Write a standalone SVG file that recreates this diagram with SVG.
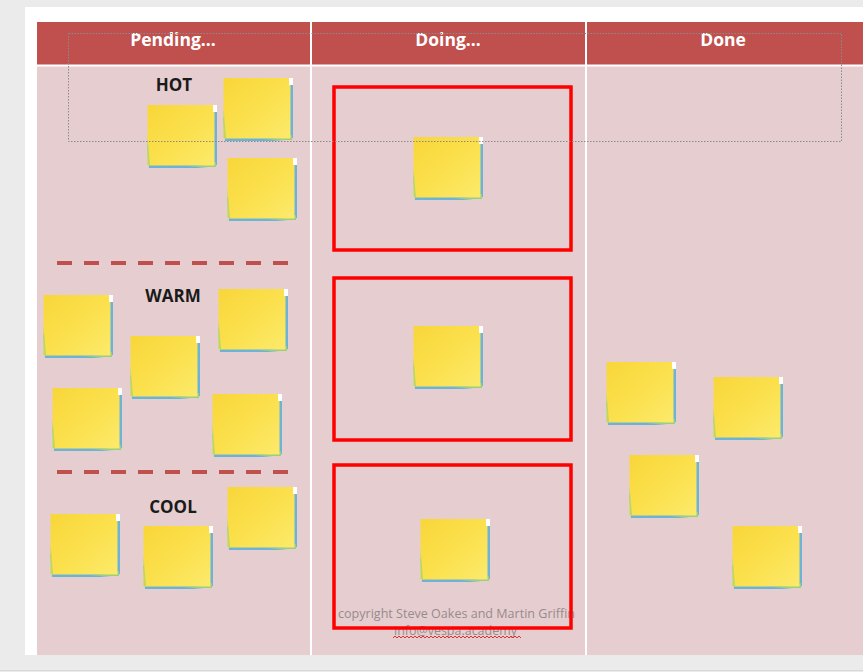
<svg xmlns="http://www.w3.org/2000/svg" xmlns:xlink="http://www.w3.org/1999/xlink" width="863" height="672" viewBox="0 0 863 672">
<style>
.hdr{font-family:"Open Sans","Liberation Sans",sans-serif;font-weight:bold;font-size:17.5px;fill:#ffffff;text-anchor:middle}
.lbl{font-family:"Open Sans","Liberation Sans",sans-serif;font-weight:bold;font-size:17px;fill:#1a1a1a;text-anchor:middle}
.copy{font-family:"Open Sans","Liberation Sans",sans-serif;font-size:13px;fill:#988a8c}
.sep{stroke:#c0504d;stroke-width:4;stroke-dasharray:15 12;fill:none}
.wip{fill:none;stroke:#ff0000;stroke-width:3.5}
.div{stroke:#ffffff;stroke-width:2}
</style>
<defs>
<linearGradient id="yel" x1="0" y1="0" x2="1" y2="1">
<stop offset="0" stop-color="#f8d63a"/>
<stop offset="0.5" stop-color="#fbe04c"/>
<stop offset="1" stop-color="#fcea6c"/>
</linearGradient>
<symbol id="note" viewBox="0 0 70 63" width="70" height="63" overflow="visible">
<path d="M66 4 L70 4 L70 60 Q60 63 50 63 L2 63 L0 40 Z" fill="#6cb3d6"/>
<path d="M40 62 Q58 61 69 57 L69 62 Z" fill="#9ad07a"/>
<rect x="0.5" y="0" width="67" height="60.5" fill="url(#yel)"/>
<path d="M0.5 30 L0.5 60 L3 60 Z" fill="#b8d86a"/>
<rect x="66" y="0" width="4" height="7" fill="#ffffff"/>
</symbol>
</defs>
<rect width="863" height="672" fill="#ebebeb"/>
<line x1="0" y1="670.5" x2="863" y2="670.5" stroke="#d8d8d8" stroke-width="1"/>
<rect x="25" y="7" width="838" height="648" fill="#ffffff"/>
<g id="board">
<rect x="37" y="22" width="826" height="43" fill="#c0504d"/>
<rect x="37" y="66" width="826" height="589" fill="#e6ced0"/>
<line class="div" x1="37" y1="65.5" x2="863" y2="65.5"/>
<line class="div" x1="311" y1="22" x2="311" y2="655"/>
<line class="div" x1="586" y1="22" x2="586" y2="655"/>
</g>
<g id="col-pending"><text class="hdr" x="173" y="46">Pending...</text></g>
<g id="col-doing"><text class="hdr" x="448" y="46">Doing...</text></g>
<g id="col-done"><text class="hdr" x="723" y="46">Done</text></g>
<g id="label-hot"><text class="lbl" x="174" y="91" font-size="18">HOT</text></g>
<g id="label-warm"><text class="lbl" x="173" y="302">WARM</text></g>
<g id="label-cool"><text class="lbl" x="173" y="513">COOL</text></g>
<g id="separators">
<line class="sep" x1="57" y1="263" x2="290" y2="263"/>
<line class="sep" x1="57" y1="472" x2="290" y2="472"/>
</g>
<g id="hot-notes">
<use id="hot1" xlink:href="#note" href="#note" x="147" y="105"/>
<use id="hot2" xlink:href="#note" href="#note" x="223" y="78"/>
<use id="hot3" xlink:href="#note" href="#note" x="227" y="158"/>
</g>
<g id="warm-notes">
<use id="warm1" xlink:href="#note" href="#note" x="43" y="295"/>
<use id="warm2" xlink:href="#note" href="#note" x="130" y="336"/>
<use id="warm3" xlink:href="#note" href="#note" x="218" y="289"/>
<use id="warm4" xlink:href="#note" href="#note" x="52" y="388"/>
<use id="warm5" xlink:href="#note" href="#note" x="212" y="394"/>
</g>
<g id="cool-notes">
<use id="cool1" xlink:href="#note" href="#note" x="50" y="514"/>
<use id="cool2" xlink:href="#note" href="#note" x="143" y="526"/>
<use id="cool3" xlink:href="#note" href="#note" x="227" y="487"/>
</g>
<g id="doing-notes">
<use id="doing1" xlink:href="#note" href="#note" x="413" y="137"/>
<use id="doing2" xlink:href="#note" href="#note" x="413" y="326"/>
<use id="doing3" xlink:href="#note" href="#note" x="420" y="519"/>
</g>
<g id="done-notes">
<use id="done1" xlink:href="#note" href="#note" x="606" y="362"/>
<use id="done2" xlink:href="#note" href="#note" x="713" y="377"/>
<use id="done3" xlink:href="#note" href="#note" x="629" y="455"/>
<use id="done4" xlink:href="#note" href="#note" x="732" y="526"/>
</g>
<g id="copyright">
<text class="copy" x="338" y="618" textLength="237" lengthAdjust="spacingAndGlyphs">copyright Steve Oakes and Martin Griffin</text>
<text class="copy" x="394" y="635" textLength="123" lengthAdjust="spacingAndGlyphs">info@vespa.academy</text>
<path d="M393 638 l2 -2 l2 2 l2 -2 l2 2 l2 -2 l2 2 l2 -2 l2 2 l2 -2 l2 2 l2 -2 l2 2 l2 -2 l2 2 l2 -2 l2 2 l2 -2 l2 2 l2 -2 l2 2 l2 -2 l2 2 l2 -2 l2 2 l2 -2 l2 2 l2 -2 l2 2 l2 -2 l2 2 l2 -2 l2 2 l2 -2 l2 2 l2 -2 l2 2 l2 -2 l2 2 l2 -2 l2 2 l2 -2 l2 2 l2 -2 l2 2 l2 -2 l2 2 l2 -2 l2 2 l2 -2 l2 2 l2 -2 l2 2 l2 -2 l2 2 l2 -2 l2 2 l2 -2 l2 2 l2 -2 l2 2 l2 -2 l2 2 l2 -2 l2 2" fill="none" stroke="#e03030" stroke-width="1"/>
</g>
<g id="wip-boxes">
<rect id="wip1" class="wip" x="334" y="87" width="237" height="163"/>
<rect id="wip2" class="wip" x="334" y="278" width="237" height="162"/>
<rect id="wip3" class="wip" x="334" y="465" width="237" height="163"/>
</g>
<g id="selection">
<rect x="68.5" y="33.5" width="773" height="108" fill="none" stroke="#8a8a8a" stroke-width="1" stroke-dasharray="1.5 1.5"/>
</g>
</svg>
